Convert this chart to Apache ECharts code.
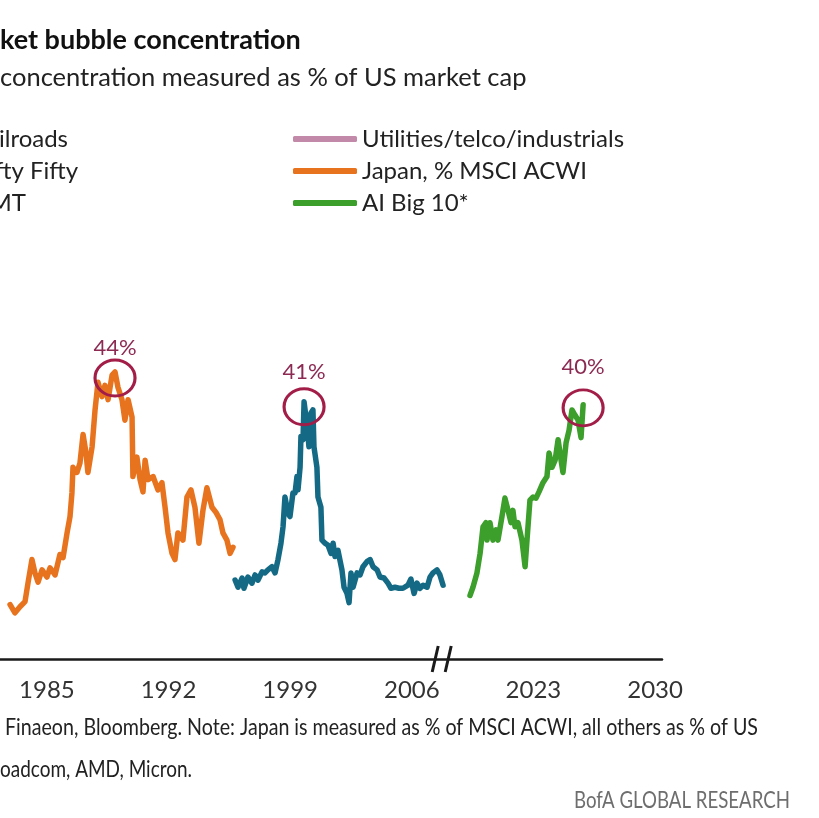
<!DOCTYPE html>
<html>
<head>
<meta charset="utf-8">
<script src="https://cdn.jsdelivr.net/npm/echarts@6/dist/echarts.min.js"></script>
<style>
  html, body { margin: 0; padding: 0; background: #fff; }
  #chart { width: 819px; height: 818px; }
</style>
</head>
<body>
<div id="chart"></div>
<script>
// bubble concentration, cropped view (axis jumps from 2008 to 2019)

const TICK_YEARS = [1985, 1992, 1999, 2006, 2023, 2030];

const JAPAN_YEARS = [
  1982.88, 1983.16, 1983.45, 1983.74, 1983.91, 1984.14, 1984.31, 1984.49, 1984.72, 1985.0,
  1985.18, 1985.47, 1985.75, 1985.93, 1986.16, 1986.33, 1986.44, 1986.5, 1986.73, 1986.9,
  1987.08, 1987.25, 1987.36, 1987.6, 1987.77, 1987.94, 1988.17, 1988.34, 1988.52, 1988.75,
  1988.92, 1989.09, 1989.32, 1989.49, 1989.67, 1989.9, 1989.95, 1990.18, 1990.36, 1990.53,
  1990.65, 1990.82, 1991.11, 1991.39, 1991.62, 1991.8, 1991.97, 1992.2, 1992.37, 1992.54,
  1992.83, 1993.06, 1993.29, 1993.52, 1993.75, 1993.98, 1994.21, 1994.5, 1994.73, 1994.96,
  1995.13, 1995.36, 1995.54, 1995.71
];
const JAPAN_VALUES = [
  21.3, 20.5, 21.1, 21.6, 23.4, 25.7, 24.4, 23.5, 24.7, 24.0,
  24.9, 24.2, 26.2, 25.9, 28.3, 29.9, 32.2, 34.7, 34.2, 35.1,
  37.9, 36.1, 34.2, 36.7, 40.3, 43.0, 41.6, 42.7, 41.3, 43.7,
  44.0, 42.5, 41.3, 39.3, 41.3, 39.6, 33.8, 35.7, 33.5, 32.3,
  35.4, 33.5, 33.8, 32.5, 33.2, 30.8, 28.3, 26.3, 25.7, 28.3,
  27.6, 31.8, 32.5, 30.8, 27.3, 30.5, 32.7, 30.8, 30.3, 29.6,
  28.3, 27.6, 26.3, 26.9
];

const TMT_YEARS = [
  1995.83, 1996.0, 1996.23, 1996.34, 1996.57, 1996.8, 1996.98, 1997.15, 1997.38, 1997.55,
  1997.72, 1997.95, 1998.13, 1998.3, 1998.47, 1998.59, 1998.7, 1998.88, 1998.99, 1999.16,
  1999.28, 1999.39, 1999.45, 1999.57, 1999.62, 1999.74, 1999.8, 1999.91, 1999.97, 2000.08,
  2000.2, 2000.31, 2000.37, 2000.54, 2000.6, 2000.77, 2000.83, 2001.01, 2001.18, 2001.35,
  2001.47, 2001.58, 2001.75, 2001.98, 2002.1, 2002.27, 2002.39, 2002.5, 2002.62, 2002.85,
  2003.02, 2003.19, 2003.42, 2003.6, 2003.77, 2004.0, 2004.17, 2004.4, 2004.63, 2004.8,
  2005.03, 2005.26, 2005.49, 2005.78, 2005.95, 2006.13, 2006.3, 2006.47, 2006.65, 2006.88,
  2007.05, 2007.22, 2007.45, 2007.62, 2007.8
];
const TMT_VALUES = [
  23.7, 23.0, 23.9, 22.9, 24.0, 23.4, 24.2, 23.7, 24.5, 24.4,
  24.7, 25.0, 24.4, 25.7, 27.3, 28.9, 31.8, 30.2, 29.9, 32.2,
  32.2, 33.8, 32.5, 34.7, 37.7, 37.4, 41.1, 39.6, 39.0, 36.7,
  40.0, 40.3, 36.7, 34.7, 31.8, 30.8, 27.6, 27.3, 27.1, 26.3,
  27.3, 26.0, 26.6, 24.7, 23.0, 22.4, 21.5, 24.4, 23.0, 24.4,
  24.2, 25.0, 25.5, 25.7, 25.0, 24.7, 24.0, 23.9, 23.4, 22.9,
  23.0, 22.9, 22.9, 23.2, 23.8, 22.4, 23.4, 22.9, 23.2, 23.0,
  24.0, 24.4, 24.7, 24.2, 23.2
];

const AI_YEARS = [
  2019.35, 2019.52, 2019.75, 2019.93, 2020.1, 2020.27, 2020.33, 2020.5, 2020.67, 2020.85,
  2020.96, 2021.19, 2021.36, 2021.54, 2021.71, 2021.82, 2021.94, 2022.11, 2022.34, 2022.52,
  2022.63, 2022.8, 2022.98, 2023.15, 2023.32, 2023.55, 2023.78, 2023.9, 2024.07, 2024.25,
  2024.42, 2024.59, 2024.7, 2024.88, 2025.05, 2025.22, 2025.39, 2025.57, 2025.74, 2025.86
];
const AI_VALUES = [
  22.2, 23.0, 24.4, 26.3, 28.9, 29.3, 27.6, 29.3, 27.6, 28.6,
  27.6, 29.9, 31.7, 30.5, 29.3, 30.5, 28.9, 29.3, 27.6, 25.0,
  27.6, 31.5, 31.8, 31.7, 32.3, 33.2, 33.8, 36.1, 34.7, 35.4,
  37.4, 35.4, 34.2, 37.1, 38.3, 40.3, 39.8, 39.3, 37.6, 40.8
];

const PEAK_LABELS = { japan: "44%", tmt: "41%", ai: "40%" };

const COLORS = {
  utilities: "#c28aa8",
  japan: "#e8731f",
  tmt: "#146a84",
  ai: "#3c9e2b",
  circle: "#a21d47",
  peakText: "#8c2a52",
};

// years after the cut are pulled left so 2023 sits one step after 2006
const CUT_YEAR = 2010;
const CUT_GAP = 10;
const toAxis = (y) => (y > CUT_YEAR ? y - CUT_GAP : y);

const FONT = "Lato, 'Open Sans', sans-serif";

function pairs(years, values) {
  return years.map((y, i) => [toAxis(y), values[i]]);
}

const ELLIPSE = "path://M0,10A10,10 0 1,1 20,10A10,10 0 1,1 0,10Z";

function peakMark(text, offsetY, dist) {
  return {
    symbol: ELLIPSE,
    symbolSize: [40, 36],
    symbolOffset: [0, offsetY],
    itemStyle: { color: "rgba(0,0,0,0)", borderColor: COLORS.circle, borderWidth: 3 },
    label: {
      show: true,
      position: "top",
      distance: dist,
      formatter: text,
      color: COLORS.peakText,
      fontFamily: FONT,
      fontSize: 22,
    },
    data: [{ type: "max", valueDim: "y" }],
  };
}

function lineSeries(name, color, data, mark) {
  return {
    name,
    type: "line",
    data,
    showSymbol: false,
    symbol: "none",
    silent: true,
    lineStyle: { color, width: 5.5, cap: "round", join: "round" },
    itemStyle: { color },
    markPoint: mark,
    z: 3,
  };
}

const chart = echarts.init(document.getElementById("chart"), null, { renderer: "canvas" });

chart.setOption({
  backgroundColor: "#ffffff",
  animation: false,
  title: [
    {
      text: "ket bubble concentration",
      left: 0,
      top: 27,
      padding: 0,
      textStyle: { fontFamily: FONT, fontSize: 27, fontWeight: "bold", color: "#111" },
    },
    {
      text: "concentration measured as % of US market cap",
      left: 0,
      top: 65,
      padding: 0,
      textStyle: { fontFamily: FONT, fontSize: 25.5, fontWeight: "normal", color: "#222" },
    },
  ],
  legend: {
    orient: "vertical",
    left: 293,
    top: 123,
    padding: 0,
    itemGap: 0,
    itemWidth: 64,
    itemHeight: 6,
    icon: "roundRect",
    selectedMode: false,
    data: ["Utilities/telco/industrials", "Japan, % MSCI ACWI", "AI Big 10*"],
    textStyle: { fontFamily: FONT, fontSize: 24, lineHeight: 32, color: "#222" },
  },
  grid: { left: 0, right: 157, top: 290, bottom: 159, outerBoundsMode: "none" },
  xAxis: {
    type: "value",
    min: 1982.3,
    max: 2020.4,
    splitLine: { show: false },
    axisTick: { show: false },
    axisLine: { show: true, lineStyle: { color: "#1a1a1a", width: 2.5 } },
    axisLabel: {
      customValues: TICK_YEARS.map(toAxis),
      formatter: (v) => {
        const hit = TICK_YEARS.find((y) => Math.abs(toAxis(y) - v) < 0.01);
        return hit ? String(hit) : "";
      },
      margin: 19,
      fontFamily: FONT,
      fontSize: 24,
      color: "#333",
    },
  },
  yAxis: {
    type: "value",
    min: 16,
    max: 52,
    show: false,
    splitLine: { show: false },
  },
  series: [
    lineSeries("Utilities/telco/industrials", COLORS.utilities, []),
    lineSeries("Japan, % MSCI ACWI", COLORS.japan, pairs(JAPAN_YEARS, JAPAN_VALUES),
      peakMark(PEAK_LABELS.japan, 6, 0)),
    lineSeries("TMT", COLORS.tmt, pairs(TMT_YEARS, TMT_VALUES),
      peakMark(PEAK_LABELS.tmt, 5, 4)),
    lineSeries("AI Big 10*", COLORS.ai, pairs(AI_YEARS, AI_VALUES),
      peakMark(PEAK_LABELS.ai, 3, 10)),
  ],
});

// axis break "//" and the loose texts (cut-off legend column, notes)
const [bx, by] = chart.convertToPixel({ gridIndex: 0 }, [2007.75, 16]);

const measureCtx = document.createElement("canvas").getContext("2d");

function txt(text, x, y, font, fill, align) {
  return {
    type: "text",
    silent: true,
    style: { text, x, y, font, fill, align: align || "left", verticalAlign: "middle" },
  };
}

// footer font in the original is condensed: squeeze the text to its width
function narrowTxt(text, x, y, width, fill, align) {
  const font = "23px " + FONT;
  measureCtx.font = font;
  const sx = width / measureCtx.measureText(text).width;
  return {
    type: "text",
    silent: true,
    x,
    y,
    scaleX: sx,
    style: { text, x: 0, y: 0, font, fill, align: align || "left", verticalAlign: "middle" },
  };
}

chart.setOption({
  graphic: [
    { type: "rect", silent: true, shape: { x: bx - 5, y: by - 4, width: 10, height: 8 }, style: { fill: "#fff" } },
    { type: "line", silent: true, shape: { x1: bx - 10, y1: by + 13, x2: bx - 4, y2: by - 13 }, style: { stroke: "#1a1a1a", lineWidth: 3 } },
    { type: "line", silent: true, shape: { x1: bx + 3, y1: by + 13, x2: bx + 9, y2: by - 13 }, style: { stroke: "#1a1a1a", lineWidth: 3 } },
    // left legend column runs off the crop, only the word endings show
    txt("ilroads", 68, 139, "24px " + FONT, "#222", "right"),
    txt("fty Fifty", 78, 171, "24px " + FONT, "#222", "right"),
    txt("MT", 26, 203, "24px " + FONT, "#222", "right"),
    narrowTxt("Finaeon, Bloomberg. Note: Japan is measured as % of MSCI ACWI, all others as % of US",
      5, 728, 753, "#222"),
    narrowTxt("oadcom, AMD, Micron.", 0, 770, 192, "#222"),
    narrowTxt("BofA GLOBAL RESEARCH", 790, 801, 216, "#6e6e6e", "right"),
  ],
});
</script>
</body>
</html>
